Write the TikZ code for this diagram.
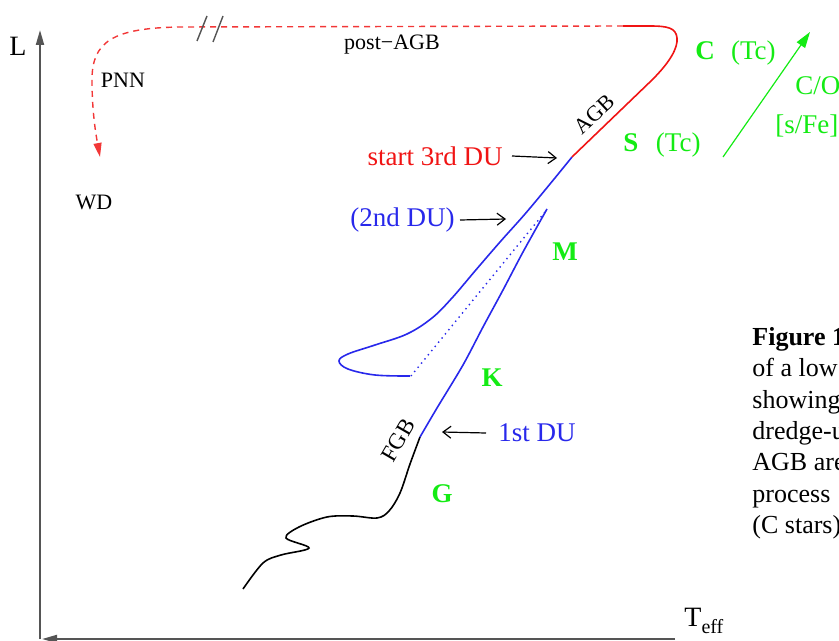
\documentclass[tikz,border=0pt]{standalone}
\usepackage{fontspec}
\setmainfont{Liberation Serif}
\usetikzlibrary{arrows.meta}
\definecolor{sgreen}{RGB}{20,235,20}
\definecolor{sblue}{RGB}{40,40,235}
\definecolor{sred}{RGB}{240,20,20}
\definecolor{axisgray}{RGB}{85,85,85}
\begin{document}
\begin{tikzpicture}[x=0.5pt,y=-0.5pt,
  lbl/.style={inner sep=0pt, font=\fontsize{13.5}{16}\selectfont},
  small/.style={inner sep=0pt, font=\fontsize{11}{13}\selectfont},
  captext/.style={inner sep=0pt, anchor=base west, font=\fontsize{13}{15}\selectfont},
  spec/.style={lbl, text=sgreen, font=\fontsize{13.5}{16}\selectfont\bfseries},
  axisline/.style={draw=axisgray, line width=1pt},
  track/.style={line width=0.8pt},
  pointer/.style={draw=black, line width=0.6pt, -{Straight Barb[length=4pt,width=6pt]}},
  lossdash/.style={draw=sred!85!white, line width=0.7pt, dash pattern=on 3pt off 2.5pt}
]
\useasboundingbox (0,0) rectangle (839,641);

% axes
\coordinate (origin) at (40,639);
\coordinate (ytop) at (40,30);
\coordinate (xend) at (675,639);
\draw[axisline, -{Triangle[length=7.5pt,width=4pt]}] (origin) -- (ytop);
\draw[axisline, -{Triangle[length=7.5pt,width=4pt]}] (xend) -- ([xshift=1pt]origin);
\node[inner sep=0pt, font=\fontsize{14}{16}\selectfont] (L) at (18,46) {L};
\node[inner sep=0pt, anchor=west] (Teff) at (684,621)
  {\fontsize{14}{16}\selectfont T\raisebox{-0.5ex}{\fontsize{10}{12}\selectfont eff}};

% first giant branch (black)
\draw[track, black] plot[smooth, tension=0.55] coordinates {
  (243,589) (263,563) (281,555) (309,548) (286,538) (299,527) (327,517)
  (353,516) (377,518) (389,511) (400,493) (410,464) (420,437)};
% red giant branch (blue)
\draw[track, sblue] plot[smooth, tension=0.5] coordinates {
  (420,437) (437,408) (463,365) (483,327) (503,290) (523,252) (547,209)};
% dotted
\draw[sblue, line width=0.7pt, dotted] (545,212) -- (411,376);
% loop and early AGB (blue)
\draw[track, sblue] plot[smooth, tension=0.6] coordinates {
  (410,376) (375,375) (348,369) (339,361) (348,354) (375,345) (407,334)
  (432,318) (452,298) (475,271) (500,242) (525,214) (550,184) (572,157)};
% AGB (red)
\draw[track, sred] (572,157) -- (652,80) .. controls (670,62) and (678,48) .. (677,38)
  .. controls (676,28) and (668,26) .. (650,26) -- (623,26);
% post-AGB dashed
\draw[lossdash, -{Triangle[length=7pt,width=4pt]}] (623,26) -- (180,27)
  .. controls (112,28) and (92,42) .. (92,80) .. controls (92,112) and (96,135) .. (100,157);
% break marks
\draw[axisgray, line width=0.7pt] (207,16) -- (197,41);
\draw[axisgray, line width=0.7pt] (223,16) -- (213,42);

% labels
\node[small] (postagb) at (392,45) {post−AGB};
\node[small] (pnn) at (123,80) {PNN};
\node[small] (wd) at (94,202) {WD};
\node[small, rotate=43] (agb) at (594,114) {AGB};
\node[inner sep=0pt, font=\fontsize{11.5}{13}\selectfont, rotate=60] (fgb) at (398,440) {FGB};

\node[lbl, text=sred, anchor=east] (du3) at (503,156) {start 3rd DU};
\node[lbl, text=sblue, anchor=east] (du2) at (455,220) {(2nd DU)};
\node[lbl, text=sblue, anchor=west] (du1) at (498,433) {1st DU};
\coordinate (du3tip) at (557,158);
\coordinate (du2tip) at (506,219);
\coordinate (du1tip) at (442,432);
\draw[pointer] ([xshift=4.5pt]du3.east) -- (du3tip);
\draw[pointer] ([xshift=2.5pt]du2.east) -- (du2tip);
\draw[pointer] ([xshift=-6pt]du1.west) -- (du1tip);

% spectral types
\node[spec] (M) at (565,252) {M};
\node[spec] (K) at (492,378) {K};
\node[spec] (G) at (442,494) {G};
\node[lbl, text=sgreen, anchor=west] (Cstar) at (695,53) {\textbf{C}\hspace{0.6em}(Tc)};
\node[lbl, text=sgreen, anchor=west] (Sstar) at (623,145) {\textbf{S}\hspace{0.65em}(Tc)};
\node[lbl, text=sgreen, anchor=west] (co) at (795,86) {C/O};
\node[lbl, text=sgreen, anchor=west] (sfe) at (775,126) {[s/Fe]};
\coordinate (gstart) at (723,157);
\coordinate (gend) at (810,32);
\draw[sgreen, line width=0.6pt, -{Triangle[length=8pt,width=5pt]}] (gstart) -- (gend);

% caption (clipped at right edge, as in the reference)
\node[captext] (c1) at (752,345) {\textbf{Figure 1}};
\node[captext] (c2) at (752,376) {of a low};
\node[captext] (c3) at (752,408) {showing};
\node[captext] (c4) at (752,439) {dredge-u};
\node[captext] (c5) at (752,470) {AGB are};
\node[captext] (c6) at (752,502) {process};
\node[captext] (c7) at (752,533) {(C stars)};
\end{tikzpicture}
\end{document}
